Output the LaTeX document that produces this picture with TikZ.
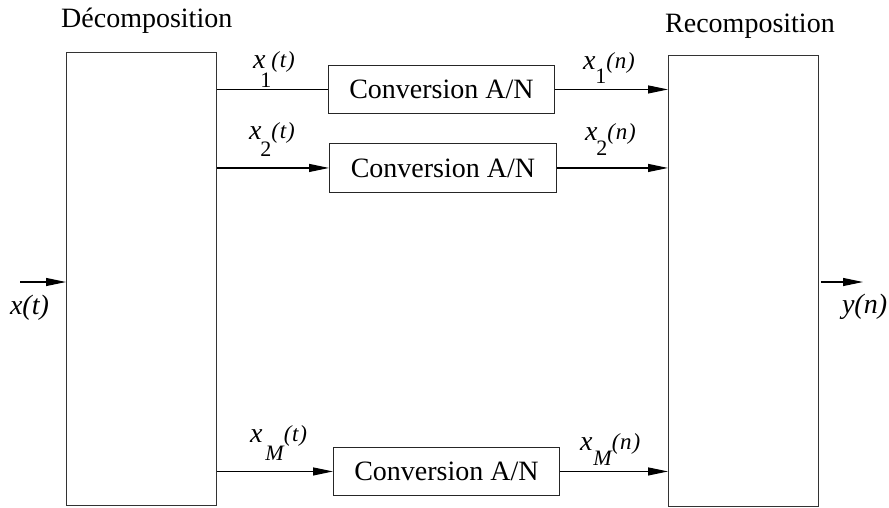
\documentclass[tikz,border=0pt]{standalone}
\usepackage{fontspec}
\setmainfont{Liberation Serif}
\usetikzlibrary{arrows.meta}
\newcommand{\sigl}[5]{\fontsize{28}{28}\selectfont\itshape x\kern#3pt\raisebox{-#4pt}{\fontsize{22}{22}\selectfont #1}\kern#5pt\raisebox{1pt}{\fontsize{23}{23}\selectfont (\kern0.8pt#2\kern0.8pt)}}
\tikzset{
  blk/.style={draw=black!80, line width=0.9pt, inner sep=0pt, anchor=north west},
  conv/.style={draw=black!85, line width=0.9pt, inner sep=0pt, anchor=north west,
    font=\fontsize{28}{28}\selectfont},
  sig/.style={line width=1.1pt, -{Triangle[length=20pt,width=8pt]}},
  wire/.style={line width=1.1pt},
  lab/.style={anchor=base west, inner sep=0pt, outer sep=0pt},
  ttl/.style={anchor=base west, inner sep=0pt, font=\fontsize{28}{28}\selectfont},
}
\begin{document}
\begin{tikzpicture}[x=1pt,y=-1pt]
\useasboundingbox (0,0) rectangle (889,507);
% big blocks
\node[blk, minimum width=150pt, minimum height=453pt] (L) at (66,52) {};
\node[blk, minimum width=150pt, minimum height=451pt] (R) at (668,55) {};
% titles
\node[ttl] (tL) at (61,27) {Décomposition};
\node[ttl] (tR) at (665,32) {Recomposition};
% converters
\node[conv, minimum width=226pt, minimum height=48pt] (c1) at (328,65) {Conversion A/N};
\node[conv, minimum width=227pt, minimum height=49pt] (c2) at (329,143) {Conversion A/N};
\node[conv, minimum width=226pt, minimum height=48pt] (c3) at (333,447) {Conversion A/N};
% connectors
\draw[wire] (c1.west -| L.east) -- (c1.west);
\draw[sig] (c2.west -| L.east) -- (c2.west);
\draw[sig] (c3.west -| L.east) -- (c3.west);
\draw[sig] (c1.east) -- (c1.east -| R.west);
\draw[sig] (c2.east) -- (c2.east -| R.west);
\draw[sig] (c3.east) -- (c3.east -| R.west);
% input / output
\coordinate (in) at (20,282);
\coordinate (out) at (863,282);
\draw[sig] (in) -- (in -| L.west);
\draw[sig] ([xshift=2pt]R.east |- out) -- (out);
\node[lab, font=\fontsize{28}{28}\selectfont\itshape] (lx) at (10,314) {x(t)};
\node[lab, font=\fontsize{28}{28}\selectfont\itshape] (ly) at (842,313) {y(n)};
% signal labels
\node[lab] (l1t) at (253,68) {\sigl{\upshape 1}{t}{-5}{19}{0}};
\node[lab] (l2t) at (249,139) {\sigl{\upshape 2}{t}{-1}{17}{0}};
\node[lab] (lMt) at (250,442) {\sigl{M}{t}{3}{18}{0}};
\node[lab] (l1n) at (583,69) {\sigl{\upshape 1}{n}{0}{14}{0}};
\node[lab] (l2n) at (585,140) {\sigl{\upshape 2}{n}{-1}{15}{0}};
\node[lab] (lMn) at (580,450) {\sigl{M}{n}{1}{15}{0}};
\end{tikzpicture}
\end{document}
